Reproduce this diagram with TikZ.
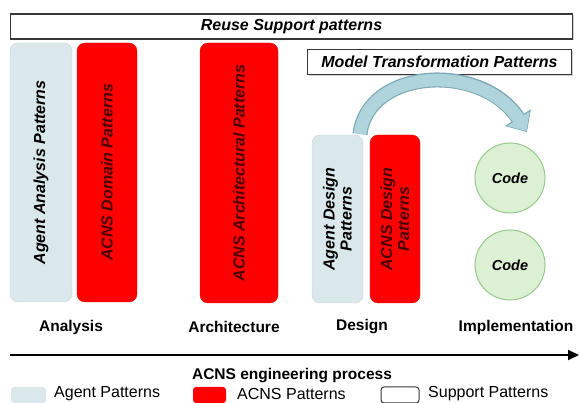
\documentclass[tikz,border=0pt]{standalone}
\usepackage{fontspec}
\setmainfont{Liberation Sans}
\usetikzlibrary{arrows.meta,shadows}
\definecolor{agentblue}{RGB}{218,232,236}
\definecolor{agentedge}{RGB}{200,214,218}
\definecolor{acnsred}{RGB}{255,0,0}
\definecolor{acnsedge}{RGB}{215,20,20}
\definecolor{acnstext}{RGB}{75,0,0}
\definecolor{supportedge}{RGB}{55,55,55}
\definecolor{codefill}{RGB}{220,240,212}
\definecolor{codeedge}{RGB}{150,200,140}
\definecolor{arrowfill}{RGB}{175,212,220}
\definecolor{arrowedge}{RGB}{125,170,182}
\begin{document}
\begin{tikzpicture}[x=1pt,y=-1pt,
  bi/.style={font=\fontsize{16}{17}\selectfont\bfseries\itshape},
  vbox/.style={rounded corners=8pt, rotate=90, inner sep=0pt, align=center, bi},
  agentbox/.style={vbox, fill=agentblue, draw=agentedge},
  acnsbox/.style={vbox, fill=acnsred, draw=acnsedge, text=acnstext},
  supportbox/.style={draw=supportedge, line width=1.4pt, fill=white, bi, inner sep=0pt,
    drop shadow={shadow xshift=1.5pt, shadow yshift=-1.5pt, opacity=0.35}},
  codenode/.style={circle, fill=codefill, draw=codeedge, line width=1pt, minimum size=70pt, inner sep=0pt,
    font=\fontsize{14.5}{16}\selectfont\bfseries\itshape},
  phase/.style={font=\fontsize{15.5}{17}\selectfont\bfseries},
  legendbox/.style={rounded corners=3pt, minimum height=16pt, inner sep=0pt},
  legendtext/.style={font=\fontsize{16}{17}\selectfont, anchor=west, inner sep=0pt}
]
\useasboundingbox (0,0) rectangle (579,403);
\fill[white] (0,0) rectangle (579,403);

% support boxes
\node[supportbox, minimum width=562pt, minimum height=25pt] (reuse) at (291.5,26.5) {Reuse Support patterns};
\node[supportbox, minimum width=264pt, minimum height=25pt] (mtp) at (439.5,62) {Model Transformation Patterns};

% vertical pattern boxes
\node[agentbox, minimum width=259pt, minimum height=62pt] (aap) at (41,172.5) {Agent Analysis Patterns};
\node[acnsbox, minimum width=259pt, minimum height=60pt] (adp) at (107,172.5) {ACNS Domain Patterns};
\node[acnsbox, minimum width=260pt, minimum height=78pt] (aarp) at (239,173) {ACNS Architectural Patterns};
\node[agentbox, minimum width=168pt, minimum height=51pt] (agdp) at (337.5,219) {Agent Design\\Patterns};
\node[acnsbox, minimum width=168pt, minimum height=50pt] (acdp) at (395,219) {ACNS Design\\Patterns};

% code circles
\node[codenode] (code1) at (510,178) {Code};
\node[codenode] (code2) at (510,265) {Code};

% transformation arrow
\coordinate (arrS) at (360,134);
\coordinate (arrE) at (527,132);
\draw[line width=15pt, arrowedge, -{Triangle[width=30pt,length=17pt]}]
  (arrS) .. controls (368,68) and (482,62) .. (arrE);
\draw[line width=12.5pt, arrowfill, -{Triangle[width=26pt,length=14.5pt]}, shorten >=1.2pt]
  (arrS) .. controls (368,68) and (482,62) .. (arrE);

% phase labels
\node[phase] (lana) at (71,327) {Analysis};
\node[phase] (larc) at (234,327) {Architecture};
\node[phase] (ldes) at (362,327) {Design};
\node[phase] (limp) at (516,327) {Implementation};

% process axis
\coordinate (axS) at (10,355);
\coordinate (axE) at (579,355);
\draw[line width=1.8pt, -{Triangle[width=10pt,length=11pt]}] (axS) -- (axE);
\node[phase] (lproc) at (292,376) {ACNS engineering process};

% legend
\node[legendbox, fill=agentblue, minimum width=35pt] (lg1) at (28.5,395) {};
\node[legendtext] (lt1) at (54,393.5) {Agent Patterns};
\node[legendbox, fill=acnsred, minimum width=33pt] (lg2) at (209.5,395) {};
\node[legendtext] (lt2) at (237,393.5) {ACNS Patterns};
\node[legendbox, draw=supportedge, line width=1pt, fill=white, minimum width=38pt] (lg3) at (400,395) {};
\node[legendtext] (lt3) at (428,393.5) {Support Patterns};
\end{tikzpicture}
\end{document}
